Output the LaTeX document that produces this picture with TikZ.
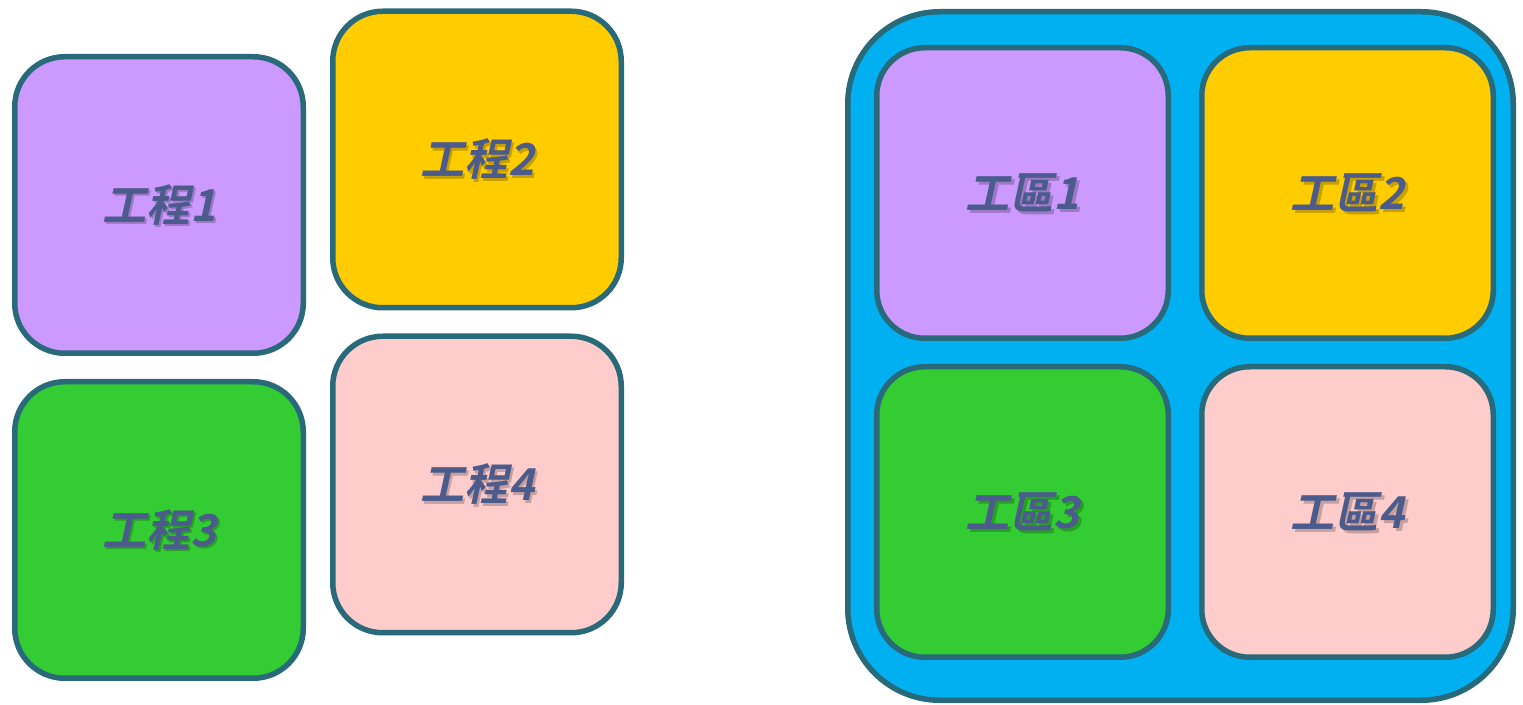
\documentclass[tikz,border=0pt]{standalone}
\usepackage{fontspec}
\newfontfamily\cjk[FakeSlant=0.22]{Noto Sans CJK TC Bold}
\definecolor{edge}{HTML}{28697A}
\definecolor{lilac}{HTML}{CC99FF}
\definecolor{gold}{HTML}{FFCC00}
\definecolor{leaf}{HTML}{33CC33}
\definecolor{rose}{HTML}{FFCCCC}
\definecolor{sky}{HTML}{00B0F0}
\definecolor{ink}{HTML}{4A5B8C}
\tikzset{
  tile/.style={draw=edge, line width=5.5pt, rounded corners=50pt, inner sep=0pt},
  smalltile/.style={tile, minimum width=288.5pt, minimum height=296.5pt},
  areatile/.style={tile, minimum width=291.5pt, minimum height=290.5pt, rounded corners=48pt},
  frame/.style={tile, fill=sky, minimum width=665.5pt, minimum height=688.5pt, rounded corners=92pt},
  lbl/.style={font=\cjk\fontsize{44}{48}\selectfont, text=ink, inner sep=0pt},
  shade/.style={font=\cjk\fontsize{44}{48}\selectfont, text=black, text opacity=0.22, inner sep=0pt}
}
\newcommand{\shadowtext}[3]{%
  \node[shade] at ([xshift=2.5pt,yshift=-2.5pt]#1) {#3};
  \node[lbl] (#2) at (#1) {#3};
}
\begin{document}
\begin{tikzpicture}[x=1pt,y=1pt]
\useasboundingbox (0,0) rectangle (1523,704);
% left group
\node[smalltile, fill=lilac] (p1) at (159,499) {};
\node[smalltile, fill=gold]  (p2) at (477,544.5) {};
\node[smalltile, fill=leaf]  (p3) at (159,174) {};
\node[smalltile, fill=rose]  (p4) at (477,219.5) {};
\shadowtext{p1.center}{t1}{工程1}
\shadowtext{p2.center}{t2}{工程2}
\shadowtext{p3.center}{t3}{工程3}
\shadowtext{p4.center}{t4}{工程4}
% right group
\node[frame] (outer) at (1180.5,348) {};
\node[areatile, fill=lilac] (a1) at (1022.5,511) {};
\node[areatile, fill=gold]  (a2) at (1347.5,511) {};
\node[areatile, fill=leaf]  (a3) at (1022.5,192) {};
\node[areatile, fill=rose]  (a4) at (1347.5,192) {};
\shadowtext{a1.center}{u1}{工區1}
\shadowtext{a2.center}{u2}{工區2}
\shadowtext{a3.center}{u3}{工區3}
\shadowtext{a4.center}{u4}{工區4}
\end{tikzpicture}
\end{document}
